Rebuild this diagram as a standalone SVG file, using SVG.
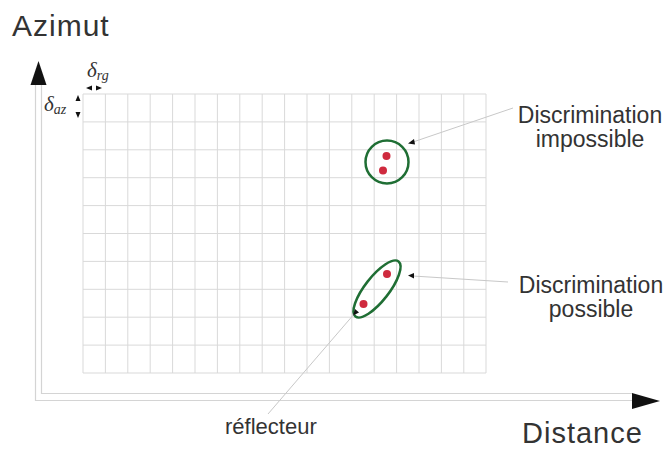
<svg xmlns="http://www.w3.org/2000/svg" width="670" height="450" viewBox="0 0 670 450">
  <defs>
    <style>
      .lbl { font-family: "Liberation Sans", Arial, sans-serif; fill: #333; }
      .greek { font-family: "Liberation Serif", "Times New Roman", serif; font-style: italic; fill: #333; }
      .grid line { stroke: #d9d9d9; stroke-width: 1; }
      .axis { stroke: #d4d4d4; stroke-width: 1.2; fill: none; }
      .lead { stroke: #c8c8c8; stroke-width: 1; fill: none; }
      .zone { fill: none; stroke: #1f6e34; stroke-width: 2.5; }
      .dot { fill: #cf2a3e; }
      .head { fill: #111; }
    </style>
  </defs>
  <rect width="670" height="450" fill="#fff"/>

  <!-- resolution grid: 18 columns x 10 rows -->
  <g id="grid" class="grid">
    <line x1="83" y1="94" x2="83" y2="373"/>
    <line x1="105.4" y1="94" x2="105.4" y2="373"/>
    <line x1="127.8" y1="94" x2="127.8" y2="373"/>
    <line x1="150.2" y1="94" x2="150.2" y2="373"/>
    <line x1="172.6" y1="94" x2="172.6" y2="373"/>
    <line x1="195" y1="94" x2="195" y2="373"/>
    <line x1="217.4" y1="94" x2="217.4" y2="373"/>
    <line x1="239.8" y1="94" x2="239.8" y2="373"/>
    <line x1="262.2" y1="94" x2="262.2" y2="373"/>
    <line x1="284.6" y1="94" x2="284.6" y2="373"/>
    <line x1="307" y1="94" x2="307" y2="373"/>
    <line x1="329.4" y1="94" x2="329.4" y2="373"/>
    <line x1="351.8" y1="94" x2="351.8" y2="373"/>
    <line x1="374.2" y1="94" x2="374.2" y2="373"/>
    <line x1="396.6" y1="94" x2="396.6" y2="373"/>
    <line x1="419" y1="94" x2="419" y2="373"/>
    <line x1="441.4" y1="94" x2="441.4" y2="373"/>
    <line x1="463.8" y1="94" x2="463.8" y2="373"/>
    <line x1="486" y1="94" x2="486" y2="373"/>
    <line x1="83" y1="94" x2="486" y2="94"/>
    <line x1="83" y1="121.9" x2="486" y2="121.9"/>
    <line x1="83" y1="149.8" x2="486" y2="149.8"/>
    <line x1="83" y1="177.7" x2="486" y2="177.7"/>
    <line x1="83" y1="205.6" x2="486" y2="205.6"/>
    <line x1="83" y1="233.5" x2="486" y2="233.5"/>
    <line x1="83" y1="261.4" x2="486" y2="261.4"/>
    <line x1="83" y1="289.3" x2="486" y2="289.3"/>
    <line x1="83" y1="317.2" x2="486" y2="317.2"/>
    <line x1="83" y1="345.1" x2="486" y2="345.1"/>
    <line x1="83" y1="373" x2="486" y2="373"/>
  </g>

  <!-- axes -->
  <g id="axes">
    <path class="axis" d="M35.5 85 V400.5 H632 M41.5 85 V393.5 H632"/>
    <polygon class="head" points="38.5,61 30.5,85 46.5,85"/>
    <polygon class="head" points="632,393 660,401 632,409"/>
    <text class="lbl" x="12" y="36" font-size="30" letter-spacing="1">Azimut</text>
    <text class="lbl" x="522" y="443" font-size="29" letter-spacing="1">Distance</text>
  </g>

  <!-- cell size markers -->
  <g id="cell-size">
    <polygon class="head" points="86,88 92,85.5 92,90.5"/>
    <polygon class="head" points="102,88 96,85.5 96,90.5"/>
    <text class="greek" x="87" y="77" font-size="21">δ<tspan font-size="14" dy="3">rg</tspan></text>
    <polygon class="head" points="78,95 75.5,101 80.5,101"/>
    <polygon class="head" points="78,118 75.5,112 80.5,112"/>
    <text class="greek" x="44" y="111" font-size="21">δ<tspan font-size="14" dy="3">az</tspan></text>
  </g>

  <!-- two reflectors in one cell -->
  <g id="target-unresolved">
    <circle class="zone" cx="387" cy="162" r="21.5"/>
    <circle class="dot" cx="386.5" cy="156" r="4"/>
    <circle class="dot" cx="383" cy="170.5" r="4"/>
  </g>

  <!-- two reflectors in separate cells -->
  <g id="target-resolved">
    <ellipse class="zone" cx="377" cy="289" rx="35" ry="12" transform="rotate(-52 377 289)"/>
    <circle class="dot" cx="387" cy="274" r="4"/>
    <circle class="dot" cx="363.5" cy="304" r="4"/>
  </g>

  <!-- callouts -->
  <g id="connectors">
    <path class="lead" d="M413 142 L513 108"/>
    <polygon class="head" points="408,143.5 414,139 415,144.5"/>
    <path class="lead" d="M413 276 L508 282"/>
    <polygon class="head" points="408,275.5 414,273 414,278.5"/>
    <path class="lead" d="M355 313 L268 414"/>
    <polygon class="head" points="353,315.5 355,309 359,312.5"/>
  </g>

  <g id="label-impossible">
    <text class="lbl" x="590" y="123" font-size="23" text-anchor="middle">Discrimination</text>
    <text class="lbl" x="590" y="147" font-size="23" text-anchor="middle">impossible</text>
  </g>
  <g id="label-possible">
    <text class="lbl" x="591" y="293" font-size="23" text-anchor="middle">Discrimination</text>
    <text class="lbl" x="591" y="317" font-size="23" text-anchor="middle">possible</text>
  </g>
  <g id="label-reflector">
    <text class="lbl" x="225" y="434" font-size="22">réflecteur</text>
  </g>
</svg>
